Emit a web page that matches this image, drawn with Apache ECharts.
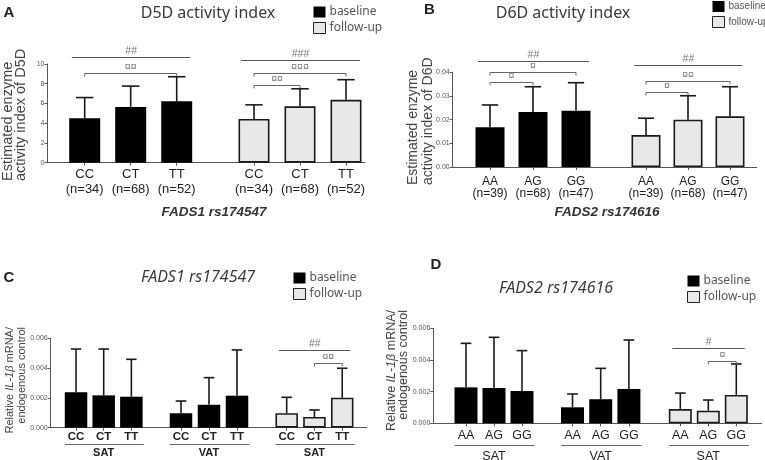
<!DOCTYPE html>
<html><head><meta charset="utf-8">
<script src="https://cdn.jsdelivr.net/npm/echarts@6/dist/echarts.min.js"></script>
<style>html,body{margin:0;padding:0;background:#fff}#c{width:765px;height:460px}</style>
</head><body><div id="c"></div><script>
// ---------------- data ----------------
// Panel A: D5D activity index by FADS1 rs174547
const genotypesA = ['CC', 'CT', 'TT'];
const samplesA = ['(n=34)', '(n=68)', '(n=52)'];
const d5dBaselineMean = [4.50, 5.65, 6.22];
const d5dBaselineSD   = [2.10, 2.11, 2.49];
const d5dFollowMean   = [4.43, 5.71, 6.37];
const d5dFollowSD     = [1.43, 1.78, 2.04];
const ticksA = [0, 2, 4, 6, 8, 10];
const sigA_baseline = [[0, 2, 10.71, '##'], [0, 2, 9.12, '¤¤']];
const sigA_follow   = [[0, 2, 10.38, '###'], [0, 2, 9.05, '¤¤¤'], [0, 1, 7.86, '¤¤']];

// Panel B: D6D activity index by FADS2 rs174616
const genotypesB = ['AA', 'AG', 'GG'];
const samplesB = ['(n=39)', '(n=68)', '(n=47)'];
const d6dBaselineMean = [0.0168, 0.0232, 0.0238];
const d6dBaselineSD   = [0.0094, 0.0107, 0.0118];
const d6dFollowMean   = [0.0135, 0.0200, 0.0214];
const d6dFollowSD     = [0.0071, 0.0101, 0.0125];
const ticksB = [0, 0.01, 0.02, 0.03, 0.04];
const sigB_baseline = [[0, 2, 0.0449, '##'], [0, 2, 0.0403, '¤'], [0, 1, 0.0359, '¤']];
const sigB_follow   = [[0, 2, 0.0431, '##'], [0, 2, 0.0365, '¤¤'], [0, 1, 0.0318, '¤']];

// Panel C: IL-1β mRNA by FADS1 rs174547
const genotypesC = ['CC', 'CT', 'TT'];
const il1bC_SATbaseMean   = [0.00238, 0.00217, 0.00208];
const il1bC_SATbaseSD     = [0.00290, 0.00311, 0.00251];
const il1bC_VATbaseMean   = [0.00097, 0.00154, 0.00215];
const il1bC_VATbaseSD     = [0.00082, 0.00182, 0.00307];
const il1bC_SATfollowMean = [0.00097, 0.00072, 0.00201];
const il1bC_SATfollowSD   = [0.00107, 0.00047, 0.00198];
const ticksC = [0, 0.002, 0.004, 0.006];
const sigC_follow = [[0, 2, 0.00522, '##'], [1, 2, 0.00436, '¤¤']];

// Panel D: IL-1β mRNA by FADS2 rs174616
const genotypesD = ['AA', 'AG', 'GG'];
const il1bD_SATbaseMean   = [0.00227, 0.00223, 0.00204];
const il1bD_SATbaseSD     = [0.00278, 0.00320, 0.00255];
const il1bD_VATbaseMean   = [0.00101, 0.00152, 0.00217];
const il1bD_VATbaseSD     = [0.00084, 0.00195, 0.00309];
const il1bD_SATfollowMean = [0.00090, 0.00080, 0.00179];
const il1bD_SATfollowSD   = [0.00101, 0.00067, 0.00196];
const ticksD = [0, 0.002, 0.004, 0.006];
const sigD_follow = [[0, 2, 0.00477, '#'], [1, 2, 0.00395, '¤']];

const tissueSAT = 'SAT', tissueVAT = 'VAT';

// ---------------- builders ----------------
const AXIS = '#555';
const grids = [], xAxes = [], yAxes = [], series = [];

function addGrid(box) {
  grids.push(Object.assign({ outerBoundsMode: 'none', containLabel: false }, box));
  return grids.length - 1;
}

function errRender(params, api) {
  const x = api.value(0), m = api.value(1), e = api.value(2);
  const p0 = api.coord([x, m]);
  const p1 = api.coord([x, m + e]);
  const half = api.size([1, 0])[0] * 0.19;
  const st = { stroke: '#1a1a1a', lineWidth: 1.6 };
  return { type: 'group', children: [
    { type: 'line', shape: { x1: p0[0], y1: p0[1], x2: p1[0], y2: p1[1] }, style: st },
    { type: 'line', shape: { x1: p1[0] - half, y1: p1[1], x2: p1[0] + half, y2: p1[1] }, style: st }
  ]};
}

function makeSigRender(sig) {
  return function (params, api) {
    const s = sig[params.dataIndex];
    const band = api.size([1, 0])[0];
    const a = api.coord([s[0], s[2]]), b = api.coord([s[1], s[2]]);
    const overall = s[3].indexOf('#') >= 0;
    let x1 = a[0], x2 = b[0];
    if (overall) { x1 -= 0.28 * band; x2 += 0.3 * band; }
    const y = Math.round(a[1]) + 0.5;
    const ls = { stroke: overall ? '#555' : '#666', lineWidth: 1 };
    const ch = [{ type: 'line', shape: { x1: x1, y1: y, x2: x2, y2: y }, style: ls }];
    if (!overall) {
      ch.push({ type: 'line', shape: { x1: x1, y1: y, x2: x1, y2: y + 3 }, style: ls });
      ch.push({ type: 'line', shape: { x1: x2, y1: y, x2: x2, y2: y + 3 }, style: ls });
    }
    ch.push({ type: 'text', x: (x1 + x2) / 2, y: y - 6.5, style: {
      text: s[3], fontSize: 10.5, fontFamily: 'Liberation Sans', fill: '#777',
      align: 'center', verticalAlign: 'middle' } });
    return { type: 'group', children: ch };
  };
}

function makeUnderline(offset) {
  return function (params, api) {
    const band = api.size([1, 0])[0];
    const a = api.coord([0, 0]), b = api.coord([2, 0]);
    const y = Math.round(a[1] + offset) + 0.5;
    return { type: 'line', shape: { x1: a[0] - 0.4 * band, y1: y, x2: b[0] + 0.45 * band, y2: y },
      style: { stroke: '#666', lineWidth: 1 } };
  };
}

function addPanel(p) {
  const ticks = p.ticks;
  const yMin = ticks[0], yMax = ticks[ticks.length - 1], yStep = ticks[1] - ticks[0];
  const bgi = addGrid({ left: p.left, top: p.top, width: p.width, height: p.height });
  xAxes.push({ gridIndex: bgi, type: 'category', data: [''],
    axisLine: { show: true, lineStyle: { color: AXIS, width: 1 } },
    axisTick: { show: false }, axisLabel: { show: false }, splitLine: { show: false } });
  yAxes.push({ gridIndex: bgi, type: 'value', min: yMin, max: yMax, interval: yStep,
    axisLine: { show: true, lineStyle: { color: AXIS, width: 1 } },
    axisTick: { show: true, length: 3, lineStyle: { color: AXIS } },
    axisLabel: { show: true, fontSize: 7, color: '#555', margin: 3, fontFamily: 'Liberation Sans',
      showMinLabel: true, showMaxLabel: true, formatter: v => v.toFixed(p.dec) },
    splitLine: { show: false } });
  p.groups.forEach(g => {
    const gi = addGrid({ left: g.left, top: p.top, width: g.width, height: p.height });
    xAxes.push({ gridIndex: gi, type: 'category', data: g.labels,
      axisLine: { show: false },
      axisTick: { show: true, alignWithLabel: true, length: 3, lineStyle: { color: AXIS } },
      axisLabel: Object.assign({ interval: 0 }, p.labelStyle),
      name: g.tissue || '', nameLocation: 'middle', nameGap: p.tissueGap || 0,
      nameTextStyle: p.tissueStyle || {} });
    yAxes.push({ gridIndex: gi, type: 'value', min: yMin, max: yMax, interval: yStep, show: false });
    const fu = g.kind === 'follow-up';
    series.push({ type: 'bar', name: g.kind, xAxisIndex: gi, yAxisIndex: gi, data: g.mean,
      barWidth: p.barWidth, animation: false, emphasis: { disabled: true },
      itemStyle: fu ? { color: '#e8e8e8', borderColor: '#1a1a1a', borderWidth: 1.6 } : { color: '#000' } });
    series.push({ type: 'custom', name: 'sd', xAxisIndex: gi, yAxisIndex: gi, z: 3, animation: false,
      data: g.mean.map((m, i) => [i, m, g.sd[i]]), encode: { x: 0, y: 1 }, renderItem: errRender });
    if (g.sig) series.push({ type: 'custom', name: 'sig', xAxisIndex: gi, yAxisIndex: gi, z: 4, animation: false,
      data: g.sig.map(s => [s[0], s[1], s[2]]), encode: { x: [0, 1], y: 2 }, renderItem: makeSigRender(g.sig) });
    if (g.tissue) series.push({ type: 'custom', name: 'ul', xAxisIndex: gi, yAxisIndex: gi, z: 4, animation: false,
      data: [[0, 0]], encode: { x: 0, y: 1 }, renderItem: makeUnderline(p.ulOffset) });
  });
}

const labAB = (gs, ns) => gs.map((g, i) => g + '\n' + ns[i]);

addPanel({ left: 47.5, top: 64, width: 317.5, height: 98.7, ticks: ticksA, dec: 0, barWidth: 31,
  labelStyle: { fontSize: 13, lineHeight: 15, color: '#222', margin: 4, fontFamily: 'Liberation Sans' },
  groups: [
    { left: 61.7, width: 138, kind: 'baseline', labels: labAB(genotypesA, samplesA), mean: d5dBaselineMean, sd: d5dBaselineSD, sig: sigA_baseline },
    { left: 231, width: 138, kind: 'follow-up', labels: labAB(genotypesA, samplesA), mean: d5dFollowMean, sd: d5dFollowSD, sig: sigA_follow }
  ] });
addPanel({ left: 452.7, top: 72.3, width: 304, height: 94.7, ticks: ticksB, dec: 2, barWidth: 29,
  labelStyle: { fontSize: 12, lineHeight: 12.5, color: '#222', margin: 8, fontFamily: 'Liberation Sans' },
  groups: [
    { left: 468.5, width: 129, kind: 'baseline', labels: labAB(genotypesB, samplesB), mean: d6dBaselineMean, sd: d6dBaselineSD, sig: sigB_baseline },
    { left: 625, width: 126, kind: 'follow-up', labels: labAB(genotypesB, samplesB), mean: d6dFollowMean, sd: d6dFollowSD, sig: sigB_follow }
  ] });
addPanel({ left: 50.7, top: 338.3, width: 316, height: 89.4, ticks: ticksC, dec: 3, barWidth: 22.5,
  labelStyle: { fontSize: 11.5, fontWeight: 'bold', color: '#222', margin: 3, fontFamily: 'Liberation Sans' },
  tissueGap: 20, ulOffset: 16.3,
  tissueStyle: { fontSize: 11, fontWeight: 'bold', color: '#222', fontFamily: 'Liberation Sans' },
  groups: [
    { left: 62.2, width: 83, kind: 'baseline', labels: genotypesC, tissue: tissueSAT, mean: il1bC_SATbaseMean, sd: il1bC_SATbaseSD },
    { left: 167, width: 84, kind: 'baseline', labels: genotypesC, tissue: tissueVAT, mean: il1bC_VATbaseMean, sd: il1bC_VATbaseSD },
    { left: 272.8, width: 83.3, kind: 'follow-up', labels: genotypesC, tissue: tissueSAT, mean: il1bC_SATfollowMean, sd: il1bC_SATfollowSD, sig: sigC_follow }
  ] });
addPanel({ left: 433.3, top: 328.3, width: 328.4, height: 95, ticks: ticksD, dec: 3, barWidth: 23,
  labelStyle: { fontSize: 12.5, color: '#222', margin: 6, fontFamily: 'Liberation Sans' },
  tissueGap: 27, ulOffset: 21.7,
  tissueStyle: { fontSize: 12.5, color: '#222', fontFamily: 'Liberation Sans' },
  groups: [
    { left: 452, width: 84, kind: 'baseline', labels: genotypesD, tissue: tissueSAT, mean: il1bD_SATbaseMean, sd: il1bD_SATbaseSD },
    { left: 558.4, width: 84.6, kind: 'baseline', labels: genotypesD, tissue: tissueVAT, mean: il1bD_VATbaseMean, sd: il1bD_VATbaseSD },
    { left: 666.3, width: 84, kind: 'follow-up', labels: genotypesD, tissue: tissueSAT, mean: il1bD_SATfollowMean, sd: il1bD_SATfollowSD, sig: sigD_follow }
  ] });

// ---------------- legends ----------------
function legendAt(left, top, fs, fam) {
  return { left: left, top: top, orient: 'vertical', itemWidth: 12, itemHeight: 11, itemGap: 4,
    selectedMode: false, padding: 0,
    textStyle: { fontSize: fs, color: '#555', fontFamily: fam || 'Noto Sans', padding: [0, 0, 0, -1] },
    data: [
      { name: 'baseline', icon: 'rect', itemStyle: { color: '#000', borderWidth: 0 } },
      { name: 'follow-up', icon: 'rect', itemStyle: { color: '#e8e8e8', borderColor: '#222', borderWidth: 1 } }
    ] };
}

// ---------------- texts ----------------
function txt(x, y, text, o) {
  return { type: 'text', x: x, y: y, rotation: o.rot || 0, silent: true,
    style: Object.assign({ text: text, align: 'center', verticalAlign: 'middle', fill: '#333',
      fontFamily: 'Liberation Sans', fontSize: 13 }, o.style || {}) };
}
const titleFont = { fontFamily: 'Noto Sans', fontSize: 16, fill: '#3a3a3a' };
const letterFont = { fontFamily: 'Liberation Sans', fontSize: 15, fontWeight: 'bold', fill: '#222' };
const graphics = [
  txt(9, 13, 'A', { style: letterFont }),
  txt(429.5, 10, 'B', { style: letterFont }),
  txt(9, 278, 'C', { style: letterFont }),
  txt(436, 265, 'D', { style: letterFont }),
  txt(208, 13, 'D5D activity index', { style: titleFont }),
  txt(563, 13, 'D6D activity index', { style: titleFont }),
  txt(198, 277, 'FADS1 rs174547', { style: Object.assign({ fontStyle: 'italic' }, titleFont) }),
  txt(556, 288, 'FADS2 rs174616', { style: Object.assign({ fontStyle: 'italic' }, titleFont) }),
  txt(214, 212, 'FADS1 rs174547', { style: { fontStyle: 'italic', fontWeight: 'bold', fontSize: 13.5, fill: '#333' } }),
  txt(607, 212, 'FADS2 rs174616', { style: { fontStyle: 'italic', fontWeight: 'bold', fontSize: 13.5, fill: '#333' } }),
  txt(14.5, 181, 'Estimated enzyme\nactivity index of D5D', { rot: Math.PI / 2,
    style: { align: 'left', fontSize: 14.5, lineHeight: 13.5, fill: '#444' } }),
  txt(420.5, 185, 'Estimated enzyme\nactivity index of D6D', { rot: Math.PI / 2,
    style: { align: 'left', fontSize: 14, lineHeight: 15, fill: '#444' } }),
  txt(15.8, 327, '{n|Relative }{i|IL-1β}{n| mRNA/}\n{n|endogenous control}', { rot: Math.PI / 2,
    style: { align: 'right', fontSize: 11, lineHeight: 11.5, fill: '#444',
      rich: { n: { fontSize: 11, lineHeight: 11.5, fill: '#444', fontFamily: 'Liberation Sans' },
              i: { fontSize: 11, lineHeight: 11.5, fill: '#444', fontStyle: 'italic', fontFamily: 'Liberation Sans' } } } }),
  txt(398, 310, '{n|Relative }{i|IL-1β}{n| mRNA/}\n{n|endogenous control}', { rot: Math.PI / 2,
    style: { align: 'right', fontSize: 12.5, lineHeight: 12, fill: '#444',
      rich: { n: { fontSize: 12.5, lineHeight: 12, fill: '#444', fontFamily: 'Liberation Sans' },
              i: { fontSize: 12.5, lineHeight: 12, fill: '#444', fontStyle: 'italic', fontFamily: 'Liberation Sans' } } } })
];

const chart = echarts.init(document.getElementById('c'), null, { renderer: 'canvas' });
chart.setOption({
  backgroundColor: '#fff',
  animation: false,
  grid: grids, xAxis: xAxes, yAxis: yAxes, series: series,
  legend: [legendAt(313, 6, 12), legendAt(712, 1, 10, '"Liberation Sans Narrow", "Liberation Sans"'),
           legendAt(293, 272, 12), legendAt(687, 275, 12)],
  graphic: graphics
});
</script></body></html>
